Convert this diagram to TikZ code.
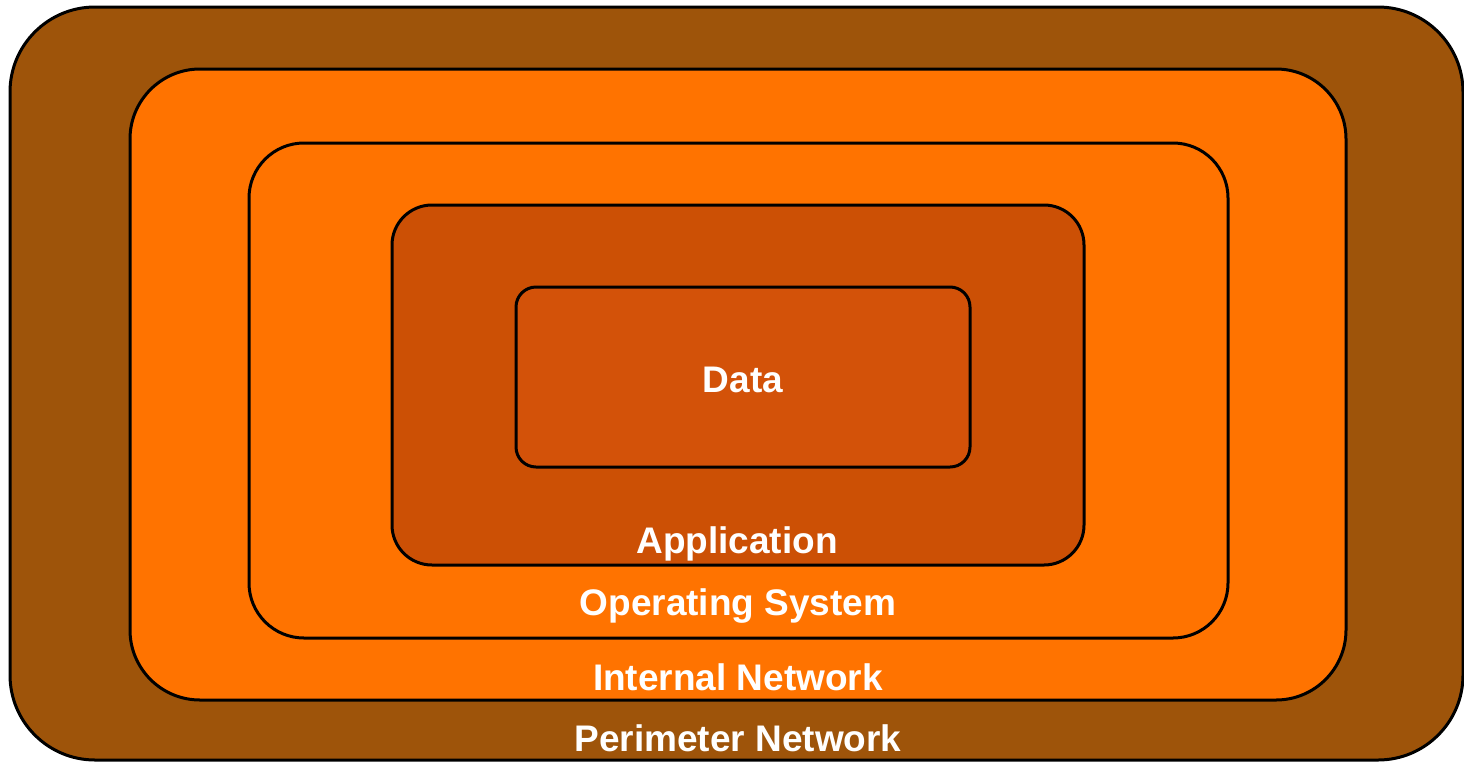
\documentclass[tikz,border=0pt]{standalone}
\usepackage{fontspec}
\setmainfont{Liberation Sans}
\definecolor{PerimBrown}{RGB}{158, 84, 10}
\definecolor{NetOrange}{RGB}{255, 115, 0}
\definecolor{AppRust}{RGB}{204, 80, 5}
\definecolor{DataRust}{RGB}{211, 82, 9}
\usetikzlibrary{positioning}

\tikzset{
  layer/.style={draw=black, line width=3pt},
  layerlabel/.style={text=white, font=\fontsize{37}{44}\selectfont\bfseries, inner sep=0pt, anchor=base}
}

\begin{document}
\begin{tikzpicture}[x=1pt, y=-1pt]
        \useasboundingbox (0,0) rectangle (1464,761);
        % nested layers, outermost first
        \draw[layer, fill=PerimBrown, rounded corners=85] (10,7) rectangle (1463,760);
        \draw[layer, fill=NetOrange, rounded corners=70] (130,69) rectangle (1346,700);
        \draw[layer, fill=NetOrange, rounded corners=55] (249,143) rectangle (1228,638);
        \draw[layer, fill=AppRust, rounded corners=40] (392,205) rectangle (1084,565);
        \draw[layer, fill=DataRust, rounded corners=20] (516,287) rectangle (970,467);

        % labels, placed on their baselines
        \node[layerlabel] (data) at (743,392) {Data};
        \node[layerlabel] (app) at (737,553) {Application};
        \node[layerlabel] (os) at (738,615) {Operating System};
        \node[layerlabel] (internal) at (738,690) {Internal Network};
        \node[layerlabel] (perimeter) at (738,751) {Perimeter Network};
    \end{tikzpicture}
\end{document}
